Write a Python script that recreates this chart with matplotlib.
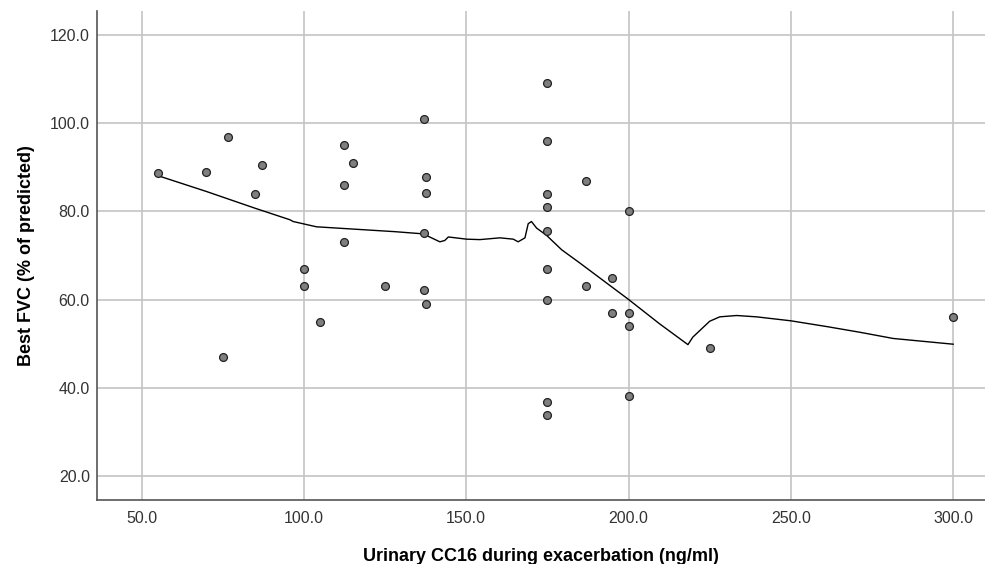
"""Dispersión de FVC frente a CC16 urinario con curva de ajuste (estilo SPSS)."""
import matplotlib
matplotlib.use("Agg")
import matplotlib.pyplot as plt

plt.rcParams["font.family"] = ["Liberation Sans", "DejaVu Sans"]

# puntos observados
cc16 = [55.0, 70.0, 76.5, 87.0, 85.0, 112.5, 115.0, 112.5, 112.5,
        175.0, 137.0, 175.0, 137.5, 137.5, 175.0, 175.0, 187.0, 200.0,
        137.0, 175.0, 100.0, 100.0, 125.0, 105.0, 75.0,
        137.0, 137.5, 175.0, 175.0, 187.0, 195.0, 195.0, 200.0, 200.0,
        200.0, 175.0, 175.0, 225.0, 300.0]
fvc = [88.7, 89.0, 96.8, 90.5, 84.0, 95.0, 91.0, 86.0, 73.0,
       109.0, 101.0, 96.0, 87.7, 84.1, 84.0, 81.0, 86.9, 80.0,
       75.1, 75.5, 67.0, 63.0, 63.0, 55.0, 47.0,
       62.1, 59.0, 67.0, 60.0, 63.0, 65.0, 56.9, 57.0, 54.0,
       38.1, 36.9, 33.8, 49.0, 56.0]

# curva de ajuste (loess)
curva_x = [55.0, 70.0, 85.0, 95.7, 96.7, 103.9, 128.0, 136.8, 139.3, 141.9,
           143.4, 144.5, 150.1, 154.2, 160.4, 164.5, 166.0, 168.1, 169.1,
           170.1, 171.7, 174.7, 179.4, 185.0, 199.9, 209.6, 218.3, 219.8,
           225.0, 228.1, 233.3, 239.4, 250.0, 261.0, 271.3, 281.5, 300.0]
curva_y = [88.1, 84.5, 80.7, 78.1, 77.7, 76.5, 75.4, 74.9, 74.0, 73.1,
           73.4, 74.2, 73.7, 73.6, 74.0, 73.7, 73.1, 74.0, 77.2,
           77.7, 76.2, 74.6, 71.3, 68.3, 60.1, 54.5, 49.8, 51.5,
           55.1, 56.1, 56.4, 56.1, 55.2, 53.9, 52.6, 51.2, 49.9]

xticks = [50, 100, 150, 200, 250, 300]
yticks = [20, 40, 60, 80, 100, 120]

fig = plt.figure(figsize=(9.85, 5.64), dpi=100)
ax = fig.add_axes([0.0982, 0.1135, 0.9018, 0.867])

ax.grid(True, color="#c4c4c4", linewidth=1.2, zorder=0)
ax.plot(curva_x, curva_y, color="black", linewidth=1.0, zorder=2)
ax.scatter(cc16, fvc, s=32, facecolor="#7f7f7f", edgecolor="#222222",
           linewidth=0.9, zorder=3)

ax.set_xlim(36.2, 309.8)
ax.set_ylim(14.6, 125.4)
ax.set_xticks(xticks)
ax.set_yticks(yticks)
ax.set_xticklabels([f"{v:.1f}" for v in xticks])
ax.set_yticklabels([f"{v:.1f}" for v in yticks])
ax.tick_params(labelsize=11.5, colors="#333333", direction="in", length=0, pad=8)
ax.tick_params(axis="y", pad=5)

for lado in ("top", "right"):
    ax.spines[lado].set_visible(False)
for lado in ("left", "bottom"):
    ax.spines[lado].set_color("#555555")
    ax.spines[lado].set_linewidth(1.2)

ax.set_xlabel("Urinary CC16 during exacerbation (ng/ml)", fontsize=13,
              fontweight="bold", labelpad=16)
ax.set_ylabel("Best FVC (% of predicted)", fontsize=13, fontweight="bold",
              labelpad=11)

fig.savefig("out.png", dpi=100)
